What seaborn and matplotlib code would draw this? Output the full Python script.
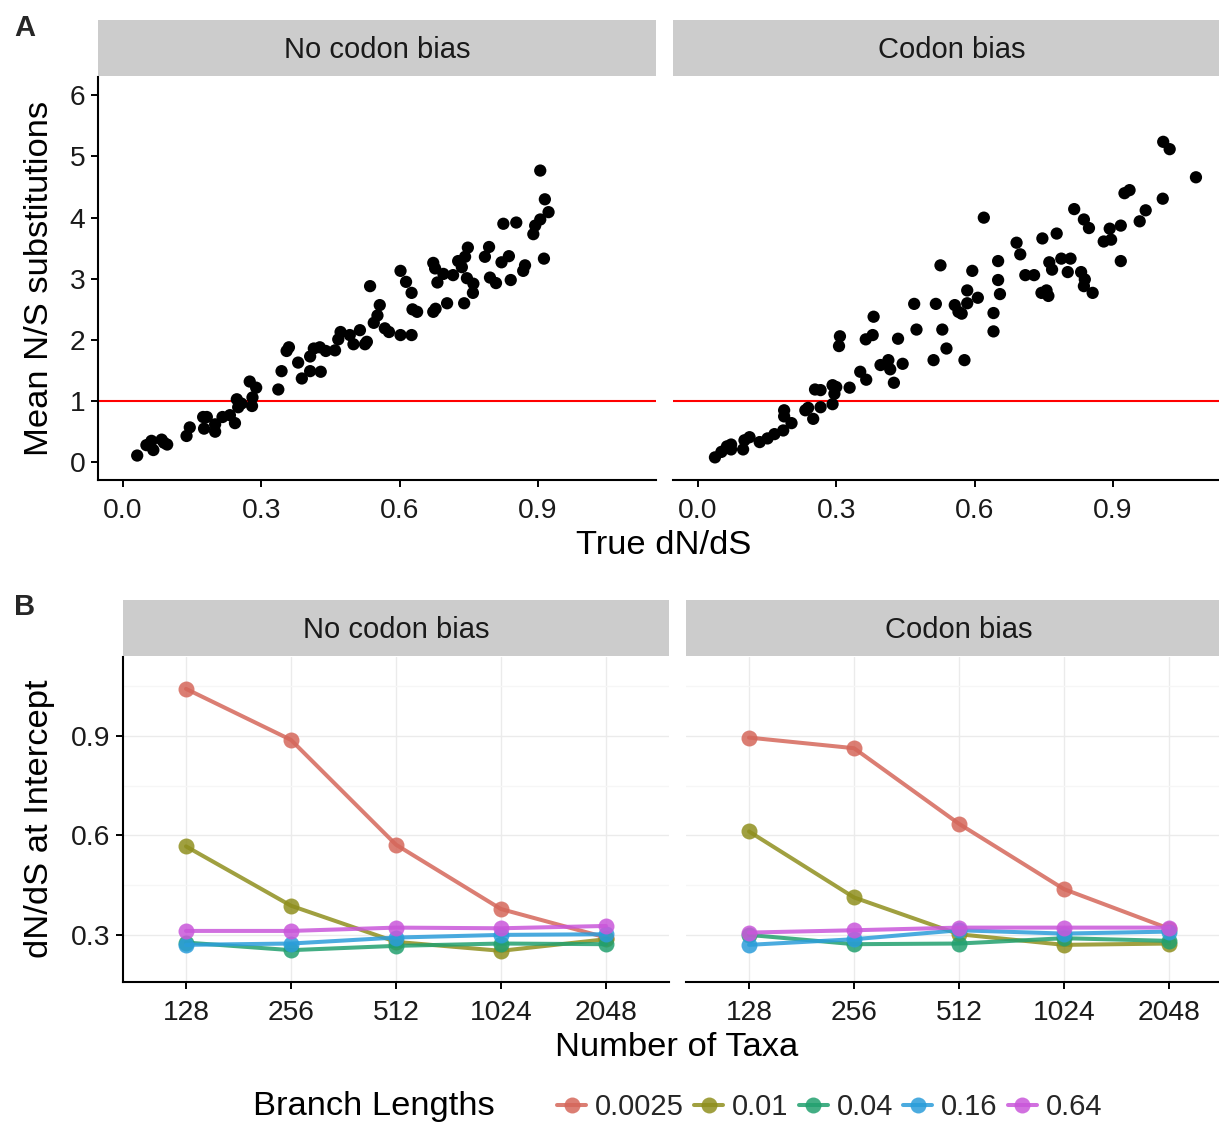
import numpy as np
import pandas as pd
import matplotlib
matplotlib.use("Agg")
import matplotlib.pyplot as plt
import seaborn as sns

# ---------------- data ----------------
# Panel A: true dN/dS vs mean N/S substitutions
nobias_true = [0.031, 0.051, 0.062, 0.066, 0.084, 0.096, 0.089, 0.138, 0.145, 0.174,
               0.182, 0.176, 0.200, 0.200, 0.216, 0.232, 0.243, 0.247, 0.250, 0.257,
               0.275, 0.289, 0.281, 0.280, 0.337, 0.344, 0.355, 0.360, 0.380, 0.388,
               0.406, 0.406, 0.414, 0.427, 0.429, 0.440, 0.460, 0.467, 0.472, 0.492,
               0.500, 0.514, 0.525, 0.529, 0.536, 0.544, 0.552, 0.557, 0.568, 0.577,
               0.602, 0.626, 0.602, 0.614, 0.626, 0.628, 0.638, 0.673, 0.678, 0.673,
               0.677, 0.682, 0.695, 0.703, 0.716, 0.727, 0.735, 0.742, 0.748, 0.746,
               0.760, 0.759, 0.740, 0.785, 0.794, 0.796, 0.809, 0.825, 0.853, 0.821,
               0.837, 0.841, 0.868, 0.872, 0.890, 0.894, 0.905, 0.905, 0.915, 0.923,
               0.913]
nobias_subs = [0.11, 0.28, 0.35, 0.20, 0.37, 0.29, 0.32, 0.43, 0.57, 0.74,
               0.74, 0.55, 0.50, 0.62, 0.74, 0.77, 0.64, 1.03, 0.90, 0.96,
               1.32, 1.22, 1.06, 0.92, 1.19, 1.49, 1.82, 1.88, 1.63, 1.37,
               1.49, 1.73, 1.86, 1.88, 1.48, 1.82, 1.83, 2.01, 2.13, 2.08,
               1.93, 2.16, 1.93, 1.97, 2.88, 2.28, 2.40, 2.57, 2.19, 2.13,
               2.08, 2.08, 3.13, 2.95, 2.77, 2.50, 2.46, 2.46, 2.51, 3.26,
               3.17, 2.94, 3.08, 2.60, 3.06, 3.29, 3.19, 3.36, 3.51, 3.01,
               2.92, 2.77, 2.60, 3.36, 3.52, 3.02, 2.93, 3.90, 3.92, 3.27,
               3.37, 2.98, 3.13, 3.22, 3.73, 3.87, 3.97, 4.77, 4.30, 4.09,
               3.33]

bias_true = [0.037, 0.051, 0.063, 0.072, 0.072, 0.098, 0.101, 0.112, 0.134, 0.151,
             0.166, 0.185, 0.187, 0.187, 0.203, 0.233, 0.239, 0.250, 0.254, 0.266,
             0.266, 0.292, 0.296, 0.292, 0.300, 0.329, 0.308, 0.306, 0.352, 0.365,
             0.381, 0.364, 0.379, 0.396, 0.413, 0.417, 0.425, 0.434, 0.444, 0.469,
             0.474, 0.511, 0.516, 0.526, 0.530, 0.539, 0.557, 0.565, 0.572, 0.578,
             0.584, 0.584, 0.595, 0.607, 0.620, 0.641, 0.641, 0.651, 0.651, 0.655,
             0.691, 0.699, 0.710, 0.729, 0.747, 0.745, 0.756, 0.760, 0.762, 0.768,
             0.778, 0.788, 0.808, 0.802, 0.816, 0.831, 0.837, 0.839, 0.837, 0.848,
             0.856, 0.880, 0.893, 0.896, 0.917, 0.917, 0.925, 0.936, 0.958, 0.971,
             1.008, 1.009, 1.023, 1.080]
bias_subs = [0.08, 0.17, 0.26, 0.29, 0.21, 0.21, 0.36, 0.41, 0.33, 0.39,
             0.46, 0.52, 0.85, 0.75, 0.64, 0.85, 0.89, 0.71, 1.19, 1.18,
             0.90, 1.26, 1.12, 0.95, 1.23, 1.22, 2.06, 1.90, 1.48, 1.35,
             2.38, 2.01, 2.08, 1.59, 1.67, 1.52, 1.30, 2.02, 1.61, 2.59,
             2.17, 1.67, 2.59, 3.22, 2.17, 1.86, 2.57, 2.46, 2.43, 1.67,
             2.60, 2.81, 3.13, 2.69, 4.00, 2.44, 2.14, 3.29, 2.98, 2.75,
             3.59, 3.40, 3.06, 3.06, 3.66, 2.77, 2.81, 2.72, 3.27, 3.15,
             3.74, 3.33, 3.33, 3.11, 4.14, 3.11, 3.97, 2.99, 2.88, 3.83,
             2.77, 3.61, 3.82, 3.64, 3.87, 3.29, 4.40, 4.45, 3.94, 4.12,
             4.31, 5.24, 5.12, 4.66]

# Panel B: dN/dS at intercept by number of taxa and branch length
taxa = ["128", "256", "512", "1024", "2048"]
branch_lengths = ["0.0025", "0.01", "0.04", "0.16", "0.64"]
nobias_intercept = {
    "0.0025": [1.042, 0.888, 0.572, 0.378, 0.292],
    "0.01":   [0.567, 0.388, 0.279, 0.252, 0.287],
    "0.04":   [0.277, 0.254, 0.267, 0.274, 0.272],
    "0.16":   [0.270, 0.274, 0.292, 0.300, 0.302],
    "0.64":   [0.312, 0.312, 0.322, 0.320, 0.327],
}
bias_intercept = {
    "0.0025": [0.895, 0.863, 0.635, 0.438, 0.319],
    "0.01":   [0.612, 0.413, 0.302, 0.270, 0.274],
    "0.04":   [0.300, 0.272, 0.274, 0.290, 0.282],
    "0.16":   [0.270, 0.287, 0.314, 0.304, 0.310],
    "0.64":   [0.307, 0.314, 0.322, 0.322, 0.322],
}
branch_colors = ["#D5675B", "#8F8F1E", "#22A06F", "#2B9DDA", "#C957DA"]

# ---------------- styling ----------------
sns.set_theme(style="white")
plt.rcParams["font.family"] = ["Liberation Sans", "DejaVu Sans"]
plt.rcParams["axes.linewidth"] = 1.5

W, H = 1219, 1123
fig = plt.figure(figsize=(W / 100, H / 100), dpi=100)
fig.patch.set_facecolor("white")

TICK_FS = 20.3
TITLE_FS = 24.8
STRIP_FS = 21


def px_axes(left, top, right, bottom, **kw):
    return fig.add_axes([left / W, 1 - bottom / H, (right - left) / W, (bottom - top) / H], **kw)


def strip(left, top, right, bottom, label):
    s = px_axes(left, top, right, bottom)
    s.set_facecolor("#CCCCCC")
    s.set_xticks([])
    s.set_yticks([])
    for sp in s.spines.values():
        sp.set_visible(False)
    s.text(0.5, 0.46, label, ha="center", va="center", fontsize=STRIP_FS, color="#1A1A1A",
           transform=s.transAxes)


def base_axis(ax, show_y):
    for name in ("top", "right"):
        ax.spines[name].set_visible(False)
    ax.spines["bottom"].set_color("black")
    ax.spines["left"].set_color("black")
    ax.spines["left"].set_visible(show_y)
    ax.tick_params(axis="both", which="major", direction="out", length=5, width=1.4,
                   color="black", labelsize=TICK_FS, labelcolor="#1A1A1A",
                   bottom=True, left=show_y, labelleft=show_y)
    ax.tick_params(axis="x", which="major", pad=8)
    ax.tick_params(axis="y", which="major", pad=4)
    ax.set_xlabel("")
    ax.set_ylabel("")


# ---------------- panel A ----------------
top_panels = [
    (98, 656, "No codon bias", nobias_true, nobias_subs, True),
    (673, 1231, "Codon bias", bias_true, bias_subs, False),
]
for left, right, label, xs, ys, show_y in top_panels:
    ax = px_axes(left, 77, right, 480)
    ax.set_facecolor("white")
    ax.axhline(1, color="red", linewidth=1.5, zorder=1)
    sns.scatterplot(x=xs, y=ys, ax=ax, color="black", s=78, edgecolor="none",
                    linewidth=0, legend=False, zorder=3)
    ax.set_xlim(-0.054, 1.156)
    ax.set_ylim(-0.29, 6.30)
    ax.set_xticks([0.0, 0.3, 0.6, 0.9])
    ax.set_xticklabels(["0.0", "0.3", "0.6", "0.9"])
    ax.set_yticks(range(0, 7))
    base_axis(ax, show_y)
    strip(left, 20, right, 76, label)

fig.text(40 / W, 1 - 278 / H, "Mean N/S substitutions", rotation=90, ha="center",
         va="center", fontsize=TITLE_FS, color="black")
fig.text(664 / W, 1 - 546 / H, "True dN/dS", ha="center", va="center",
         fontsize=TITLE_FS, color="black")

# ---------------- panel B ----------------
bottom_panels = [
    (123, 669, "No codon bias", nobias_intercept, True),
    (686, 1232, "Codon bias", bias_intercept, False),
]
legend_handles = None
for left, right, label, values, show_y in bottom_panels:
    ax = px_axes(left, 657, right, 982)
    ax.set_facecolor("white")
    df = pd.DataFrame(
        [(t, bl, values[bl][i]) for bl in branch_lengths for i, t in enumerate(taxa)],
        columns=["taxa", "bl", "val"],
    )
    sns.lineplot(data=df, x="taxa", y="val", hue="bl", hue_order=branch_lengths,
                 palette=branch_colors, marker="o", markersize=11.5, markeredgewidth=0,
                 linewidth=2.9, alpha=0.85, sort=False, errorbar=None, ax=ax,
                 legend=show_y, zorder=3)
    if show_y:
        legend_handles = ax.get_legend_handles_labels()
        ax.get_legend().remove()
    ax.set_xlim(-0.6, 4.6)
    ax.set_ylim(0.158, 1.138)
    ax.set_yticks([0.3, 0.6, 0.9])
    ax.set_yticklabels(["0.3", "0.6", "0.9"])
    ax.set_yticks([0.45, 0.75, 1.05], minor=True)
    ax.tick_params(axis="y", which="minor", length=0)
    ax.grid(True, which="major", color="#EBEBEB", linewidth=1.0, zorder=0)
    ax.grid(True, which="minor", axis="y", color="#F6F6F6", linewidth=1.0, zorder=0)
    ax.set_axisbelow(True)
    base_axis(ax, show_y)
    strip(left, 600, right, 656, label)

fig.text(40 / W, 1 - 819 / H, "dN/dS at Intercept", rotation=90, ha="center",
         va="center", fontsize=TITLE_FS, color="black")
fig.text(677 / W, 1 - 1048 / H, "Number of Taxa", ha="center", va="center",
         fontsize=TITLE_FS, color="black")

# legend along the bottom
fig.text(253 / W, 1 - 1107 / H, "Branch Lengths", ha="left", va="center",
         fontsize=TITLE_FS, color="black")
handles, labels = legend_handles
fig.legend(handles, labels, loc="center left", bbox_to_anchor=(557 / W, 1 - 1107 / H),
           ncol=5, frameon=False, fontsize=STRIP_FS, handlelength=1.0,
           handletextpad=0.3, columnspacing=0.35, borderpad=0, borderaxespad=0)

# panel letters
fig.text(14 / W, 1 - 28 / H, "A", ha="left", va="center", fontsize=21, fontweight="bold")
fig.text(14 / W, 1 - 607 / H, "B", ha="left", va="center", fontsize=21, fontweight="bold")

fig.savefig("out.png", dpi=100, facecolor="white")
